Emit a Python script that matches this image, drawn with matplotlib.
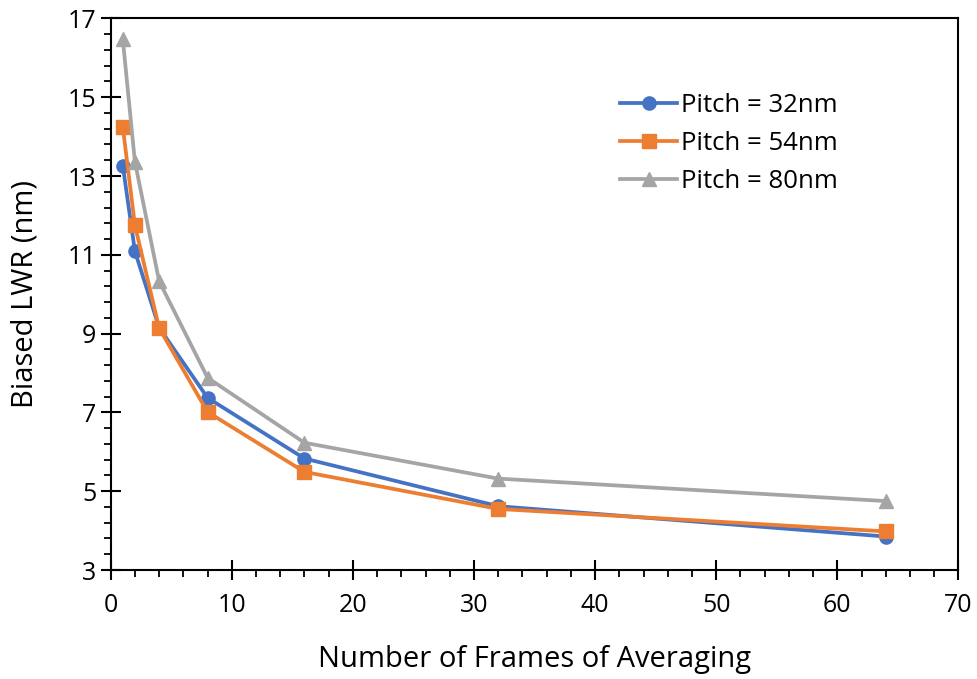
import numpy as np
import matplotlib
matplotlib.use("Agg")
import matplotlib.pyplot as plt
from matplotlib.ticker import MultipleLocator

plt.rcParams["font.family"] = ["Open Sans", "DejaVu Sans"]

frames = [1, 2, 4, 8, 16, 32, 64]
lwr_32 = [13.26, 11.09, 9.15, 7.37, 5.83, 4.62, 3.85]
lwr_54 = [14.24, 11.75, 9.14, 7.01, 5.49, 4.55, 3.98]
lwr_80 = [16.47, 13.36, 10.33, 7.88, 6.23, 5.32, 4.75]

labels = ["Pitch = 32nm", "Pitch = 54nm", "Pitch = 80nm"]
colors = ["#4472C4", "#ED7D31", "#A5A5A5"]
markers = ["o", "s", "^"]

fig = plt.figure(figsize=(9.77, 6.79), dpi=100)
ax = fig.add_axes([0.1133, 0.1605, 0.8677, 0.8124])

for vals, lab, col, mk in zip([lwr_32, lwr_54, lwr_80], labels, colors, markers):
    ax.plot(frames, vals, color=col, marker=mk, markersize=9.5, linewidth=2.7, label=lab)

ax.set_xlim(0, 70)
ax.set_ylim(3, 17)
ax.xaxis.set_major_locator(MultipleLocator(10))
ax.xaxis.set_minor_locator(MultipleLocator(2))
ax.yaxis.set_major_locator(MultipleLocator(2, offset=1))
ax.yaxis.set_minor_locator(MultipleLocator(0.4, offset=0.2))
ax.tick_params(which="major", direction="inout", length=14.5, width=1.5, labelsize=18, color="black")
ax.tick_params(which="minor", direction="out", length=5, width=1.3, color="black")
ax.tick_params(axis="y", which="major", pad=3)
ax.tick_params(axis="x", which="major", pad=9)
for s in ax.spines.values():
    s.set_linewidth(1.5)
    s.set_color("black")

ax.set_xlabel("Number of Frames of Averaging", fontsize=21, labelpad=20)
ax.set_ylabel("Biased LWR (nm)", fontsize=21, labelpad=20)

ax.legend(loc="upper left", bbox_to_anchor=(0.574, 0.906), frameon=False, fontsize=18.5,
          handlelength=2.2, handletextpad=0.15, labelspacing=0.5)

fig.savefig("out.png", dpi=100)
